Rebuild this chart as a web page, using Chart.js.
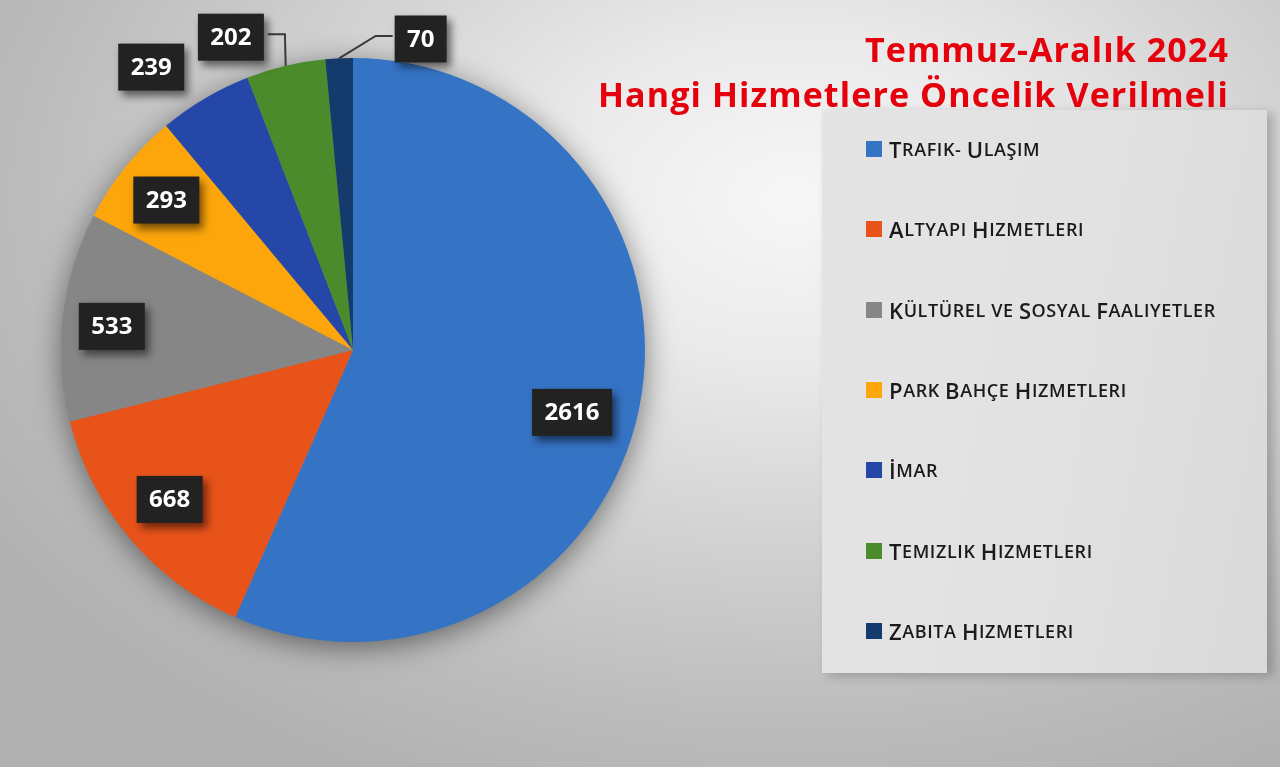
<!DOCTYPE html>
<html lang="en">
<head>
<meta charset="utf-8">
<script src="https://cdn.jsdelivr.net/npm/chart.js@4.4.1/dist/chart.umd.min.js"></script>
<style>
html,body{margin:0;padding:0;width:1280px;height:767px;overflow:hidden;}
body{
  position:relative;
  background:
    radial-gradient(ellipse 75% 85% at 62% 26%, #f7f7f7 0%, #eaeaea 25%, #d0d0d0 55%, #bcbcbc 80%, #b0b0b0 100%);
}
#chartWrap{position:absolute;left:0;top:0;width:1280px;height:767px;}
#title{
  position:absolute;right:51px;top:27px;text-align:right;
  color:#e5000c;font-family:"Open Sans",sans-serif;font-weight:700;
  font-size:34px;line-height:45px;letter-spacing:1.1px;
}
#legend{
  position:absolute;left:822px;top:110px;width:445px;height:563px;
  background:linear-gradient(100deg,#e4e4e4 0%,#e2e2e2 50%,#d9d9d9 100%);
  box-shadow:6px 3px 10px rgba(0,0,0,0.22);
}
.item{
  position:absolute;left:44px;height:30px;display:flex;align-items:center;
  font-family:"Open Sans",sans-serif;font-weight:600;color:#1a1a1a;
  white-space:pre;letter-spacing:0.6px;
}
.item .cap{font-size:22px;text-transform:uppercase;}
.item .sc{font-size:18px;text-transform:uppercase;}
.sw{width:16px;height:16px;margin-right:7px;flex:none;}
</style>
</head>
<body>
<div id="chartWrap"><canvas id="c" width="1280" height="767"></canvas></div>
<div id="title">Temmuz-Aralık 2024<br>Hangi Hizmetlere Öncelik Verilmeli</div>
<div id="legend"></div>
<script>
// ---- data ----
const categories = [
  "Trafik- Ulaşım",
  "Altyapı Hizmetleri",
  "Kültürel ve Sosyal Faalıyetler",
  "Park Bahçe Hizmetleri",
  "İmar",
  "Temizlik Hizmetleri",
  "Zabıta Hizmetleri"
];
const values = [2616, 668, 533, 293, 239, 202, 70];
const colors = ["#3573c4", "#e8531a", "#868686", "#fca60b", "#2548a8", "#4b8b2b", "#153a6c"];

// ---- label placement (style, not data): radius factor and angle shift in degrees ----
const labelPlacement = [
  {f:0.78, d:4}, {f:0.81, d:1}, {f:0.83, d:-1}, {f:0.82, d:0},
  {f:1.19, d:-5}, {f:1.15, d:-8}, {f:1.09, d:15}
];
const leaderLines = [false, false, false, false, false, true, true];

const pieShadow = {
  id:'pieShadow',
  beforeDatasetsDraw(chart){
    const meta = chart.getDatasetMeta(0);
    const a = meta.data[0];
    if(!a) return;
    const ctx = chart.ctx;
    ctx.save();
    ctx.shadowColor = 'rgba(0,0,0,0.5)';
    ctx.shadowBlur = 30;
    ctx.shadowOffsetX = 0;
    ctx.shadowOffsetY = 6;
    ctx.fillStyle = '#888';
    ctx.beginPath();
    ctx.arc(a.x, a.y, a.outerRadius - 1, 0, Math.PI*2);
    ctx.fill();
    ctx.restore();
  }
};

const boxLabels = {
  id:'boxLabels',
  afterDatasetsDraw(chart){
    const ctx = chart.ctx;
    const meta = chart.getDatasetMeta(0);
    const ds = chart.data.datasets[0];
    ctx.save();
    ctx.font = '700 24px "Open Sans", sans-serif';
    meta.data.forEach((arc, i) => {
      const p = labelPlacement[i];
      const mid = (arc.startAngle + arc.endAngle)/2;
      const ang = mid + p.d*Math.PI/180;
      const R = arc.outerRadius;
      const cx = arc.x + Math.cos(ang)*R*p.f;
      const cy = arc.y + Math.sin(ang)*R*p.f;
      const txt = String(ds.data[i]);
      const tw = ctx.measureText(txt).width;
      const w = Math.round(tw + 25), h = 47;
      const bx = cx - w/2, by = cy - h/2;
      if (leaderLines[i]) {
        const ex = arc.x + Math.cos(mid)*R;
        const ey = arc.y + Math.sin(mid)*R;
        let sx, elx;
        if (cx < ex) { sx = bx + w + 4; elx = sx + 17; }
        else { sx = bx - 2; elx = sx - 17; }
        const sy = cy - 3;
        ctx.save();
        ctx.strokeStyle = '#3a3a3a';
        ctx.lineWidth = 2;
        ctx.beginPath();
        ctx.moveTo(sx, sy);
        ctx.lineTo(elx, sy);
        ctx.lineTo(ex, ey);
        ctx.stroke();
        ctx.restore();
      }
      ctx.save();
      ctx.shadowColor = 'rgba(0,0,0,0.55)';
      ctx.shadowBlur = 8;
      ctx.shadowOffsetX = 4;
      ctx.shadowOffsetY = 5;
      ctx.fillStyle = '#222222';
      ctx.fillRect(bx, by, w, h);
      ctx.restore();
      ctx.fillStyle = '#ffffff';
      ctx.textAlign = 'center';
      ctx.textBaseline = 'middle';
      ctx.fillText(txt, cx, cy + 1);
    });
    ctx.restore();
  }
};

const chart = new Chart(document.getElementById('c'), {
  type:'pie',
  data:{
    labels: categories,
    datasets:[{
      data: values,
      backgroundColor: colors,
      borderWidth: 0
    }]
  },
  options:{
    responsive:false,
    animation:false,
    layout:{padding:{left:61, top:58, right:635, bottom:125}},
    plugins:{legend:{display:false}, tooltip:{enabled:false}, title:{display:false}}
  },
  plugins:[pieShadow, boxLabels]
});

// ---- HTML legend built from chart data (small-caps look) ----
const legendEl = document.getElementById('legend');
const isUpper = ch => ch !== ch.toLowerCase() && ch === ch.toUpperCase();
chart.data.labels.forEach((lab, i) => {
  const it = document.createElement('div');
  it.className = 'item';
  it.style.top = (24 + i*80.3) + 'px';
  const sw = document.createElement('span');
  sw.className = 'sw';
  sw.style.background = chart.data.datasets[0].backgroundColor[i];
  it.appendChild(sw);
  // group characters into runs of capitals / small caps
  let run = '', runCls = null;
  const flush = () => {
    if (!run) return;
    const s = document.createElement('span');
    s.className = runCls;
    s.textContent = run;
    it.appendChild(s);
    run = '';
  };
  for (const ch of lab) {
    const cls = isUpper(ch) ? 'cap' : 'sc';
    if (cls !== runCls) { flush(); runCls = cls; }
    run += ch;
  }
  flush();
  legendEl.appendChild(it);
});
</script>
</body>
</html>
